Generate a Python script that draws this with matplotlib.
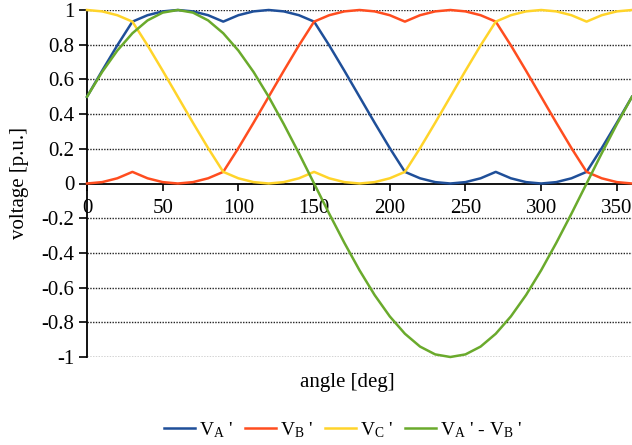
import matplotlib
matplotlib.use("Agg")
import matplotlib.pyplot as plt

plt.rcParams['font.family'] = ['Liberation Serif', 'DejaVu Serif']
plt.rcParams['mathtext.fontset'] = 'custom'
plt.rcParams['mathtext.rm'] = 'Liberation Serif'
plt.rcParams['mathtext.it'] = 'Liberation Serif'

angle = list(range(0, 361, 10))
va = [0.5, 0.650, 0.796, 0.933, 0.970, 0.992, 1.0, 0.992, 0.970, 0.933, 0.970, 0.992, 1.0,
      0.992, 0.970, 0.933, 0.796, 0.650, 0.5, 0.350, 0.204, 0.067, 0.030, 0.008, 0.0,
      0.008, 0.030, 0.067, 0.030, 0.008, 0.0, 0.008, 0.030, 0.067, 0.204, 0.350, 0.5]
vb = [0.0, 0.008, 0.030, 0.067, 0.030, 0.008, 0.0, 0.008, 0.030, 0.067, 0.204, 0.350, 0.5,
      0.650, 0.796, 0.933, 0.970, 0.992, 1.0, 0.992, 0.970, 0.933, 0.970, 0.992, 1.0,
      0.992, 0.970, 0.933, 0.796, 0.650, 0.5, 0.350, 0.204, 0.067, 0.030, 0.008, 0.0]
vc = [1.0, 0.992, 0.970, 0.933, 0.796, 0.650, 0.5, 0.350, 0.204, 0.067, 0.030, 0.008, 0.0,
      0.008, 0.030, 0.067, 0.030, 0.008, 0.0, 0.008, 0.030, 0.067, 0.204, 0.350, 0.5,
      0.650, 0.796, 0.933, 0.970, 0.992, 1.0, 0.992, 0.970, 0.933, 0.970, 0.992, 1.0]
vab = [0.5, 0.643, 0.766, 0.866, 0.940, 0.985, 1.0, 0.985, 0.940, 0.866, 0.766, 0.643, 0.5,
       0.342, 0.174, 0.0, -0.174, -0.342, -0.5, -0.643, -0.766, -0.866, -0.940, -0.985, -1.0,
       -0.985, -0.940, -0.866, -0.766, -0.643, -0.5, -0.342, -0.174, 0.0, 0.174, 0.342, 0.5]

labels = [r"V$_\mathrm{A}$ '", r"V$_\mathrm{B}$ '", r"V$_\mathrm{C}$ '",
          r"V$_\mathrm{A}$ ' - V$_\mathrm{B}$ '"]
colors = ["#1f4f99", "#ff4d1f", "#ffd42a", "#6aaa2c"]
xticks = [0, 50, 100, 150, 200, 250, 300, 350]
yticks = [-1, -0.8, -0.6, -0.4, -0.2, 0, 0.2, 0.4, 0.6, 0.8, 1]
ytick_labels = ["-1", "-0.8", "-0.6", "-0.4", "-0.2", "0", "0.2", "0.4", "0.6", "0.8", "1"]

fig = plt.figure(figsize=(6.32, 4.45), dpi=100)
ax = fig.add_axes([87/632, 88/445, 545/632, 347/445])

for yv in yticks:
    if yv == 0:
        continue
    ax.axhline(yv, color="#222222", lw=1.0, ls=(0, (1, 1)), zorder=1)

for series, lab, col in zip([va, vb, vc, vab], labels, colors):
    ax.plot(angle, series, color=col, lw=1.8, label=lab, zorder=3, clip_on=False)

ax.set_xlim(0, 360)
ax.set_ylim(-1, 1)
ax.spines['top'].set_visible(False)
ax.spines['right'].set_visible(False)
ax.spines['bottom'].set_position(('data', 0))
ax.spines['left'].set_position(('data', 0))
ax.spines['left'].set_linewidth(1.3)
ax.spines['bottom'].set_linewidth(1.3)
ax.spines['bottom'].set_zorder(2)

ax.set_xticks(xticks)
ax.set_xticklabels([str(x) for x in xticks])
ax.set_yticks(yticks)
ax.set_yticklabels(ytick_labels)
ax.tick_params(axis='x', direction='out', length=5, width=1.2, labelsize=15, pad=6)
ax.tick_params(axis='y', direction='out', length=6, width=1.2, labelsize=15, pad=3)

fig.text(20/632, 1 - 183/445, "voltage [p.u.]", rotation=90, ha='center', va='center', fontsize=15)
fig.text(347/632, 1 - 383/445, "angle [deg]", ha='center', va='center', fontsize=15)

leg = fig.legend(loc='center', bbox_to_anchor=(343/632, 1 - 430/445), ncol=4, frameon=False,
                 fontsize=14, handlelength=1.6, columnspacing=0.6, handletextpad=0.2)

fig.savefig("out.png", dpi=100)
